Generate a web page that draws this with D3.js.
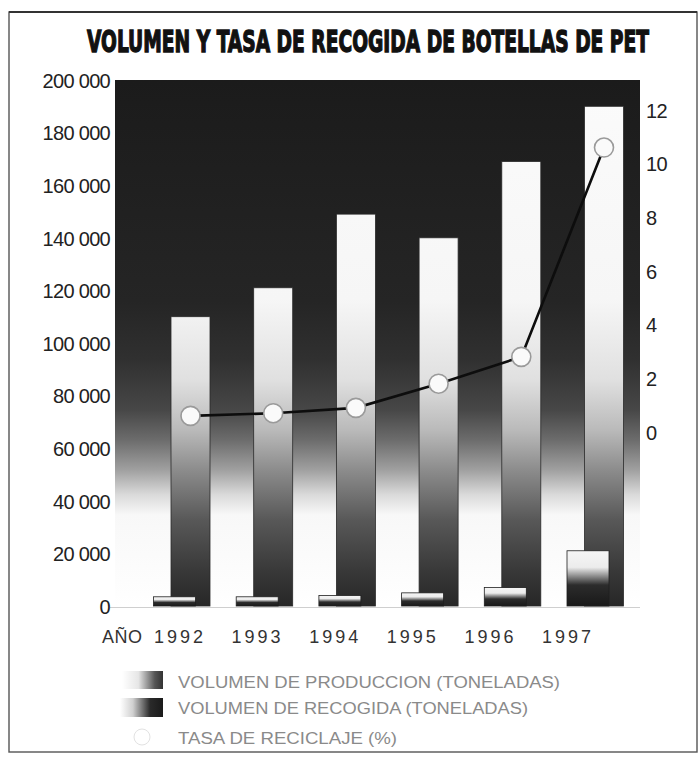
<!DOCTYPE html>
<html>
<head>
<meta charset="utf-8">
<script src="https://cdn.jsdelivr.net/npm/d3@7"></script>
<style>
  body { margin: 0; background: #fff; }
  svg { display: block; }
</style>
</head>
<body>
<svg id="chart" width="700" height="757"></svg>
<script>
// PET bottle data, Spain 1992-1997
const years = ["1992", "1993", "1994", "1995", "1996", "1997"];
const produccion = [110000, 121000, 149000, 140000, 169000, 190000]; // t
const recogida = [3500, 3500, 4000, 5000, 7000, 21000];               // t
const tasa = [0.6, 0.7, 0.9, 1.8, 2.8, 10.6];                          // %
const leftTicks = [0, 20000, 40000, 60000, 80000, 100000, 120000, 140000, 160000, 180000, 200000];
const rightTicks = [0, 2, 4, 6, 8, 10, 12];
const titleText = "VOLUMEN Y TASA DE RECOGIDA DE BOTELLAS DE PET";
const axisLabel = "AÑO";
const legendLabels = [
  "VOLUMEN DE PRODUCCION (TONELADAS)",
  "VOLUMEN DE RECOGIDA (TONELADAS)",
  "TASA DE RECICLAJE (%)"
];

const svg = d3.select("#chart");

// layout
const panel = { left: 115, right: 640, top: 80, bottom: 607 };

const y = d3.scaleLinear().domain([0, 200000]).range([606, 80]);
const y2 = d3.scaleLinear().domain([0, 12]).range([432, 110]);
const xc = d3.scalePoint().domain(years).range([190.5, 604]);
const xLab = d3.scalePoint().domain(years).range([178, 566]);
const barW = 39, recW = 42, recOffset = -16;

const fmt = d3.formatLocale({ decimal: ",", thousands: " ", grouping: [3], currency: ["", ""] }).format(",");

const defs = svg.append("defs");

// background panel: dark at the top, fading to white toward the base
const bgGrad = defs.append("linearGradient")
  .attr("id", "bgGrad").attr("gradientUnits", "userSpaceOnUse")
  .attr("x1", 0).attr("x2", 0).attr("y1", panel.top).attr("y2", panel.bottom);
[[0, "#1b1b1b"], [0.42, "#252525"], [0.53, "#303030"], [0.626, "#474747"],
 [0.683, "#6c6c6c"], [0.74, "#a0a0a0"], [0.787, "#dadada"], [0.825, "#f8f8f8"], [1, "#ffffff"]]
  .forEach(([o, c]) => bgGrad.append("stop").attr("offset", o).attr("stop-color", c));

// production bars: white at the top, darkening toward the base
const barGrad = defs.append("linearGradient")
  .attr("id", "barGrad").attr("gradientUnits", "userSpaceOnUse")
  .attr("x1", 0).attr("x2", 0).attr("y1", panel.top).attr("y2", panel.bottom);
[[0, "#fbfbfb"], [0.417, "#f6f6f6"], [0.569, "#e0e0e0"], [0.664, "#bababa"],
 [0.74, "#8c8c8c"], [0.835, "#585858"], [0.93, "#393939"], [1, "#262626"]]
  .forEach(([o, c]) => barGrad.append("stop").attr("offset", o).attr("stop-color", c));

// collection bars: light cap over a dark body
const recGrad = defs.append("linearGradient")
  .attr("id", "recGrad").attr("x1", 0).attr("x2", 0).attr("y1", 0).attr("y2", 1);
[[0, "#f6f6f6"], [0.3, "#ececec"], [0.62, "#2c2c2c"], [1, "#191919"]]
  .forEach(([o, c]) => recGrad.append("stop").attr("offset", o).attr("stop-color", c));

// legend swatches: horizontal light-to-dark
const sw1 = defs.append("linearGradient").attr("id", "sw1").attr("x1", 0).attr("x2", 1).attr("y1", 0).attr("y2", 0);
[[0, "#ffffff"], [0.4, "#e6e6e6"], [0.8, "#555"], [1, "#333"]]
  .forEach(([o, c]) => sw1.append("stop").attr("offset", o).attr("stop-color", c));
const sw2 = defs.append("linearGradient").attr("id", "sw2").attr("x1", 0).attr("x2", 1).attr("y1", 0).attr("y2", 0);
[[0, "#ffffff"], [0.3, "#d0d0d0"], [0.7, "#2a2a2a"], [1, "#1a1a1a"]]
  .forEach(([o, c]) => sw2.append("stop").attr("offset", o).attr("stop-color", c));

// frame
svg.append("rect")
  .attr("x", 9).attr("y", 12).attr("width", 688).attr("height", 740)
  .attr("fill", "none").attr("stroke", "#555").attr("stroke-width", 1.4);
svg.append("line")
  .attr("x1", 9).attr("x2", 697).attr("y1", 12).attr("y2", 12)
  .attr("stroke", "#333").attr("stroke-width", 2.2);

// title: heavy condensed lettering, stretched vertically
svg.append("text")
  .attr("transform", "translate(368,52) scale(1,1.55)")
  .attr("x", 0).attr("y", 0)
  .attr("text-anchor", "middle")
  .attr("textLength", 562).attr("lengthAdjust", "spacingAndGlyphs")
  .style("font-family", "'DejaVu Sans Condensed','DejaVu Sans','Liberation Sans',sans-serif")
  .style("font-weight", "bold").style("font-size", "20px")
  .attr("fill", "#111").attr("stroke", "#111").attr("stroke-width", 0.9)
  .text(titleText);

// background panel
svg.append("rect")
  .attr("x", panel.left).attr("y", panel.top)
  .attr("width", panel.right - panel.left).attr("height", panel.bottom - panel.top)
  .attr("fill", "url(#bgGrad)");

// baseline
svg.append("line")
  .attr("x1", 110).attr("x2", panel.right).attr("y1", y(0) + 1.5).attr("y2", y(0) + 1.5)
  .attr("stroke", "#cfcfcf").attr("stroke-width", 1);

// production bars
svg.append("g").selectAll("rect").data(years).join("rect")
  .attr("x", d => xc(d) - barW / 2)
  .attr("y", (d, i) => y(produccion[i]))
  .attr("width", barW)
  .attr("height", (d, i) => y(0) - y(produccion[i]))
  .attr("fill", "url(#barGrad)")
  .attr("stroke", "#2a2a2a").attr("stroke-width", 0.8);

// collection bars
svg.append("g").selectAll("rect").data(years).join("rect")
  .attr("x", d => xc(d) + recOffset - recW / 2)
  .attr("y", (d, i) => y(recogida[i]))
  .attr("width", recW)
  .attr("height", (d, i) => y(0) - y(recogida[i]))
  .attr("fill", "url(#recGrad)")
  .attr("stroke", "#1e1e1e").attr("stroke-width", 0.8);

// recycling rate line and markers
const line = d3.line().x(d => xc(d)).y((d, i) => y2(tasa[i]));
svg.append("path")
  .datum(years)
  .attr("d", line)
  .attr("fill", "none").attr("stroke", "#0d0d0d").attr("stroke-width", 2.6);
svg.append("g").selectAll("circle").data(years).join("circle")
  .attr("cx", d => xc(d))
  .attr("cy", (d, i) => y2(tasa[i]))
  .attr("r", 9.5)
  .attr("fill", "#fafafa").attr("stroke", "#9a9a9a").attr("stroke-width", 1.6);

// left axis (tonnes)
const gl = svg.append("g").attr("transform", "translate(110,0)")
  .call(d3.axisLeft(y).tickValues(leftTicks).tickSize(0).tickPadding(0).tickFormat(fmt));
gl.select(".domain").remove();
gl.selectAll("text")
  .attr("dy", "0.36em")
  .style("font-family", "'Liberation Sans',Arial,sans-serif")
  .style("font-size", "20px").style("letter-spacing", "-0.7px")
  .attr("fill", "#222");

// right axis (%)
const gr = svg.append("g").attr("transform", "translate(646,0)")
  .call(d3.axisRight(y2).tickValues(rightTicks).tickSize(0).tickPadding(0).tickFormat(d3.format("d")));
gr.select(".domain").remove();
gr.selectAll("text")
  .attr("dy", "0.36em")
  .style("font-family", "'Liberation Sans',Arial,sans-serif")
  .style("font-size", "20px").style("letter-spacing", "-0.5px")
  .attr("fill", "#222");

// year labels
const gx = svg.append("g").attr("transform", "translate(0,643)")
  .call(d3.axisBottom(xLab).tickSize(0).tickPadding(0));
gx.select(".domain").remove();
gx.selectAll("text")
  .attr("dy", 0).attr("dx", "1.5px")
  .style("font-family", "'Liberation Sans',Arial,sans-serif")
  .style("font-size", "18px").style("letter-spacing", "3px")
  .attr("fill", "#333");
svg.append("text")
  .attr("x", 102).attr("y", 643)
  .style("font-family", "'Liberation Sans',Arial,sans-serif")
  .style("font-size", "18px").style("letter-spacing", "0.5px")
  .attr("fill", "#333")
  .text(axisLabel);

// legend
const legendY = [682, 708, 738];
const legendW = [382, 350, 219];
const lg = svg.append("g");
lg.append("rect").attr("x", 122).attr("y", 671).attr("width", 41).attr("height", 18).attr("fill", "url(#sw1)");
lg.append("rect").attr("x", 120).attr("y", 698).attr("width", 43).attr("height", 19).attr("fill", "url(#sw2)");
lg.append("circle").attr("cx", 142).attr("cy", 737).attr("r", 8)
  .attr("fill", "#fff").attr("stroke", "#e2e2e2").attr("stroke-width", 1);
lg.selectAll("text.leg").data(legendLabels).join("text")
  .attr("class", "leg")
  .attr("x", 178)
  .attr("y", (d, i) => legendY[i] + 6)
  .attr("textLength", (d, i) => legendW[i]).attr("lengthAdjust", "spacingAndGlyphs")
  .style("font-family", "'Liberation Sans',Arial,sans-serif")
  .style("font-size", "16px")
  .attr("fill", "#8a8a8a")
  .text(d => d);
</script>
</body>
</html>
